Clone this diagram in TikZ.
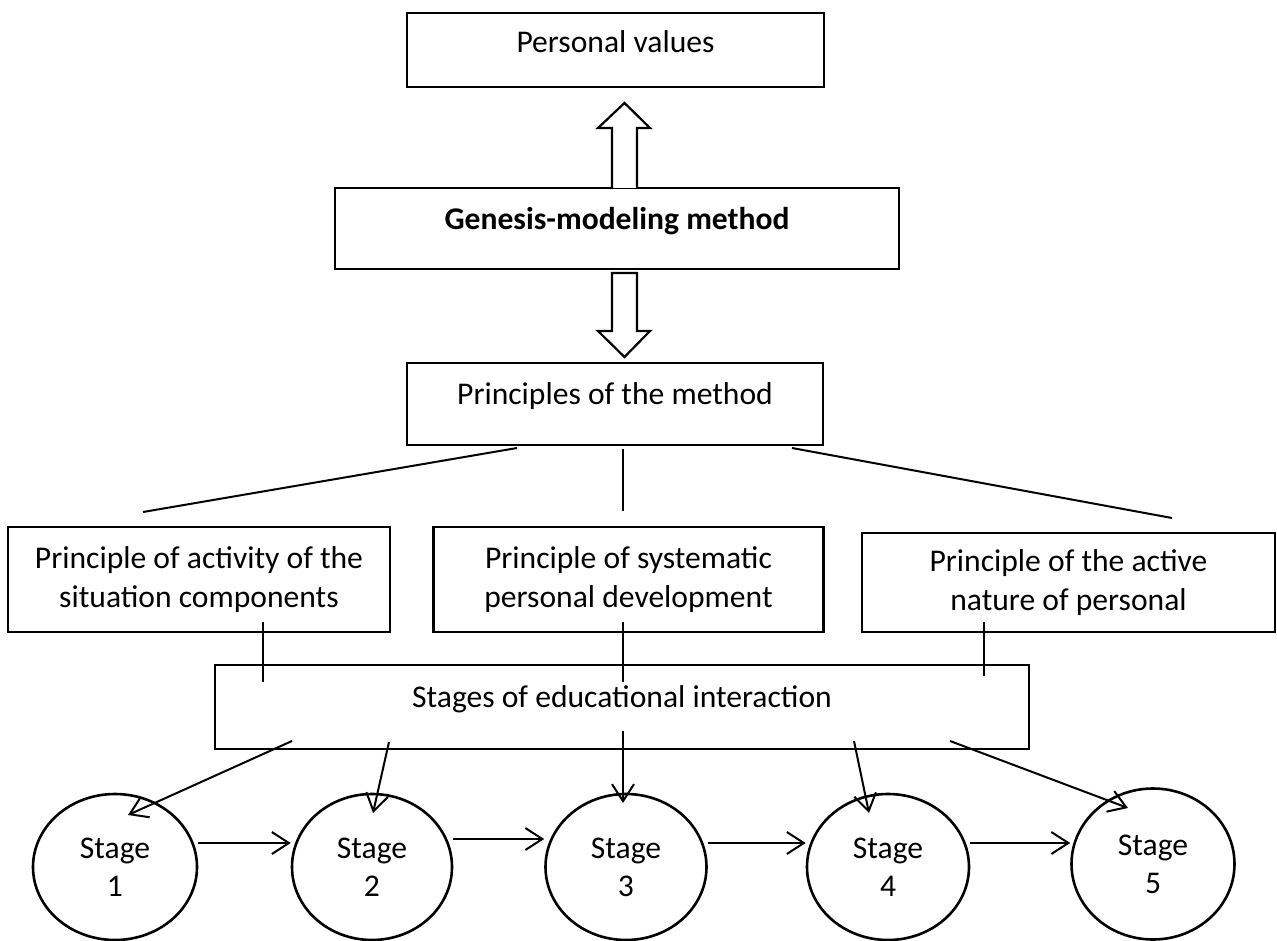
\documentclass[tikz,border=0pt]{standalone}
\usepackage{fontspec}
\setmainfont{Carlito}
\usetikzlibrary{shapes.geometric,arrows.meta}
\begin{document}
\begin{tikzpicture}[x=1pt,y=-1pt,
  box/.style={draw,line width=2.6pt,rectangle,inner sep=0pt,align=center,font=\fontsize{31.6}{39.5}\selectfont},
  stagenode/.style={draw,line width=2.6pt,ellipse,inner sep=0pt,align=center,font=\fontsize{31.6}{38}\selectfont},
  conn/.style={line width=2pt},
  arr/.style={line width=2pt,-{Straight Barb[length=17pt,width=22pt]}},
  blockarrow/.style={line width=2.2pt,fill=white,line join=miter}]
\useasboundingbox (0,0) rectangle (1277,941);

% boxes
\node[box,minimum width=417pt,minimum height=74pt,text height=22pt,text depth=16pt] (pv) at (615.5,50) {Personal values};
\node[box,minimum width=564pt,minimum height=81pt,text height=21pt,text depth=18pt] (gm) at (617,228.5) {\bfseries Genesis-modeling method};
\node[box,minimum width=416pt,minimum height=82pt,text height=20pt,text depth=20pt] (pm) at (615,404) {Principles of the method};
\node[box,minimum width=382pt,minimum height=105pt] (b1) at (199,579.5) {Principle of activity of the\\situation components};
\node[box,minimum width=390pt,minimum height=105pt] (b2) at (628.5,579.5) {Principle of systematic\\personal development};
\node[box,minimum width=413pt,minimum height=99pt] (b3) at (1068.5,582.5) {Principle of the active\\nature of personal};
\node[box,minimum width=814pt,minimum height=84pt,text height=20pt,text depth=20pt] (st) at (622,707) {Stages of educational interaction};

% stage ellipses
\node[stagenode,minimum width=164pt,minimum height=146pt] (s1) at (115,867) {Stage\\1};
\node[stagenode,minimum width=160pt,minimum height=146pt] (s2) at (372,867) {Stage\\2};
\node[stagenode,minimum width=161pt,minimum height=146pt] (s3) at (626,867) {Stage\\3};
\node[stagenode,minimum width=162pt,minimum height=146pt] (s4) at (888,867) {Stage\\4};
\node[stagenode,minimum width=163pt,minimum height=151pt] (s5) at (1153,864) {Stage\\5};

% block arrows
\draw[blockarrow] (612,188) -- (612,128) -- (598,128) -- (624.5,103) -- (650,128) -- (637,128) -- (637,188);
\draw[blockarrow] (612,273) -- (612,331) -- (598,331) -- (624.5,357) -- (650,331) -- (637,331) -- (637,273) -- cycle;

% lines from principles of the method
\coordinate (l1a) at (517,448); \coordinate (l1b) at (143,512);
\coordinate (l2a) at (623,449); \coordinate (l2b) at (623,511);
\coordinate (l3a) at (792,448); \coordinate (l3b) at (1172,518);
\draw[conn] (l1a) -- (l1b);
\draw[conn] (l2a) -- (l2b);
\draw[conn] (l3a) -- (l3b);

% ticks between principles and stages box
\coordinate (t1a) at (263,622); \coordinate (t1b) at (263,682);
\coordinate (t2a) at (623,622); \coordinate (t2b) at (623,682);
\coordinate (t3a) at (984,622); \coordinate (t3b) at (984,676);
\draw[conn] (t1a) -- (t1b);
\draw[conn] (t2a) -- (t2b);
\draw[conn] (t3a) -- (t3b);

% arrows from stages box to stages
\coordinate (a1) at (292,741);
\coordinate (a2) at (389,742);
\coordinate (a3) at (623,731);
\coordinate (a4) at (854,741);
\coordinate (a5) at (950,741);
\coordinate (e1) at (128,815);
\coordinate (e2) at (373,813);
\coordinate (e3) at (623,803);
\coordinate (e4) at (869,813);
\coordinate (e5) at (1128,808);
\draw[arr] (a1) -- (e1);
\draw[arr] (a2) -- (e2);
\draw[arr] (a3) -- (e3);
\draw[arr] (a4) -- (e4);
\draw[arr] (a5) -- (e5);

% arrows between stages
\draw[arr] ([yshift=24pt]s1.east) -- ([yshift=24pt]s2.west);
\draw[arr] ([yshift=28pt]s2.east) -- ([yshift=28pt]s3.west);
\draw[arr] ([yshift=24pt]s3.east) -- ([yshift=24pt]s4.west);
\draw[arr] ([yshift=24pt]s4.east) -- ([yshift=21pt]s5.west);
\end{tikzpicture}
\end{document}
